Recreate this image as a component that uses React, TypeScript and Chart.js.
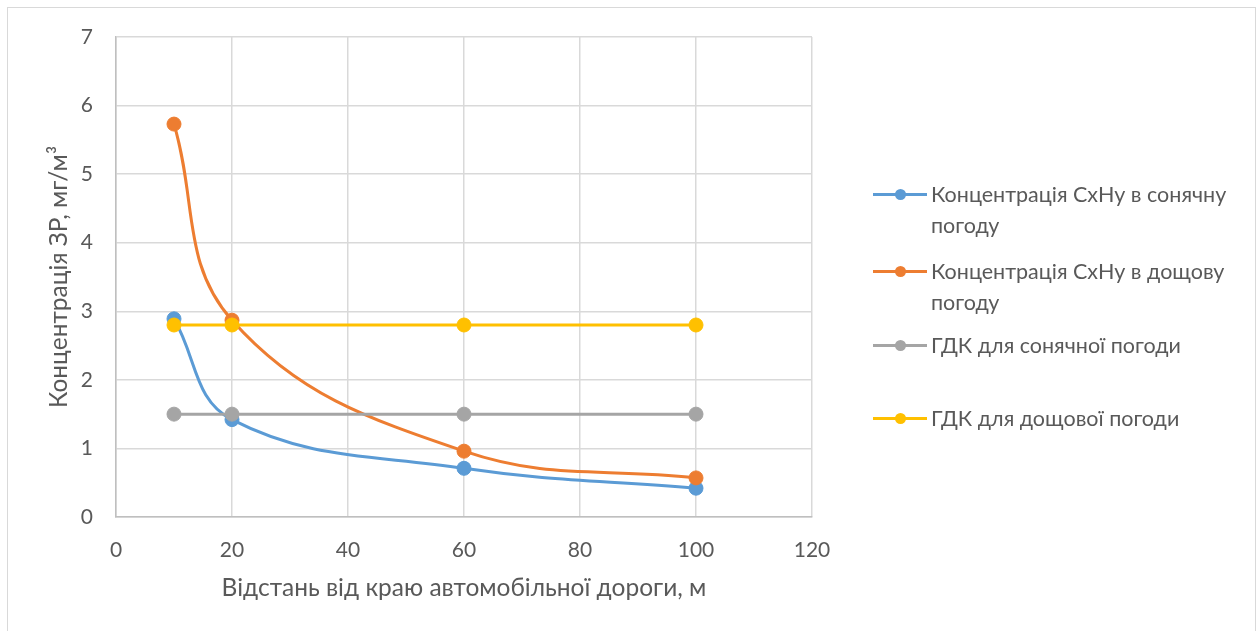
import React, { useEffect, useRef } from "react";
import { Chart, registerables } from "chart.js";

Chart.register(...registerables);

// Distance from the road edge, m
const distances = [10, 20, 60, 100];
// Hydrocarbon (CxHy) concentration, mg/m³
const sunnyConc = [2.89, 1.42, 0.71, 0.42];
const rainyConc = [5.73, 2.87, 0.96, 0.57];
// Maximum permissible concentration lines
const sunnyLimit = [1.5, 1.5, 1.5, 1.5];
const rainyLimit = [2.8, 2.8, 2.8, 2.8];

const seriesLabels = [
  "Концентрація СхНу в сонячну погоду",
  "Концентрація СхНу в дощову погоду",
  "ГДК для сонячної погоди",
  "ГДК для дощової погоди",
];
const seriesColors = ["#5B9BD5", "#ED7D31", "#A5A5A5", "#FFC000"];
const seriesValues = [sunnyConc, rainyConc, sunnyLimit, rainyLimit];

const xTitle = "Відстань від краю автомобільної дороги, м";
const yTitle = "Концентрація ЗР, мг/м³";

const TEXT = "#595959";
const FONT = "Lato, 'Open Sans', sans-serif";

// Legend entry tops (relative to the frame)
const legendTops = [171, 248, 322, 395];

export default function App() {
  const canvasRef = useRef<HTMLCanvasElement | null>(null);

  useEffect(() => {
    const canvas = canvasRef.current;
    if (!canvas) return;
    const datasets = seriesValues.map((vals, i) => ({
      label: seriesLabels[i],
      data: distances.map((x, j) => ({ x, y: vals[j] })),
      showLine: true,
      tension: 0.4,
      borderColor: seriesColors[i],
      backgroundColor: seriesColors[i],
      borderWidth: 3,
      pointRadius: 7,
      pointHoverRadius: 7,
      pointBorderWidth: 1,
      pointBackgroundColor: seriesColors[i],
      pointBorderColor: seriesColors[i],
      fill: false,
      clip: false as any,
      order: seriesValues.length - i,
    }));

    const chart = new Chart(canvas, {
      type: "scatter",
      data: { datasets },
      options: {
        responsive: false,
        animation: false,
        layout: {
          autoPadding: false,
          padding: { left: 0, top: 29, right: 443, bottom: 28.6 },
        },
        plugins: { legend: { display: false }, tooltip: { enabled: false } },
        scales: {
          x: {
            type: "linear",
            min: 0,
            max: 120,
            ticks: { stepSize: 20, padding: 21, color: TEXT, font: { family: FONT, size: 21 } },
            grid: { color: "#d9d9d9", lineWidth: 1.5, drawTicks: false },
            border: { color: "#bfbfbf", width: 1.5 },
            title: {
              display: true,
              text: xTitle,
              color: TEXT,
              font: { family: FONT, size: 24.5 },
              padding: 0,
            },
            afterFit: (s: any) => {
              s.height = 85.4;
            },
          },
          y: {
            type: "linear",
            min: 0,
            max: 7,
            ticks: { stepSize: 1, padding: 23, color: TEXT, font: { family: FONT, size: 21 } },
            grid: { color: "#d9d9d9", lineWidth: 1.5, drawTicks: false },
            border: { color: "#bfbfbf", width: 1.5 },
            title: {
              display: true,
              text: yTitle,
              color: TEXT,
              font: { family: FONT, size: 24.5 },
              padding: { top: 36, bottom: 0 },
            },
            afterFit: (s: any) => {
              s.width = 108;
              // the frame padding already leaves room for the end labels
              s.paddingTop = 0;
              s.paddingBottom = 0;
            },
          },
        },
      },
    });
    return () => chart.destroy();
  }, []);

  return (
    <div
      style={{
        position: "fixed",
        left: 7,
        top: 7,
        width: 1249,
        height: 640,
        boxSizing: "border-box",
        border: "1px solid #d9d9d9",
        background: "#fff",
      }}
    >
      <canvas
        ref={canvasRef}
        width={1247}
        height={623}
        style={{ position: "absolute", left: 0, top: 0, display: "block" }}
      />
      {seriesLabels.map((label, i) => (
        <div
          key={label}
          style={{ position: "absolute", left: 865, top: legendTops[i], width: 390 }}
        >
          <div
            style={{
              position: "absolute",
              left: 0,
              top: 13.5,
              width: 54,
              height: 3,
              background: seriesColors[i],
            }}
          />
          <div
            style={{
              position: "absolute",
              left: 21.5,
              top: 9.5,
              width: 11,
              height: 11,
              borderRadius: "50%",
              background: seriesColors[i],
            }}
          />
          <div
            style={{
              position: "absolute",
              left: 58,
              top: 0,
              width: 320,
              fontFamily: FONT,
              fontSize: 21.5,
              lineHeight: "31px",
              color: TEXT,
            }}
          >
            {label}
          </div>
        </div>
      ))}
    </div>
  );
}
